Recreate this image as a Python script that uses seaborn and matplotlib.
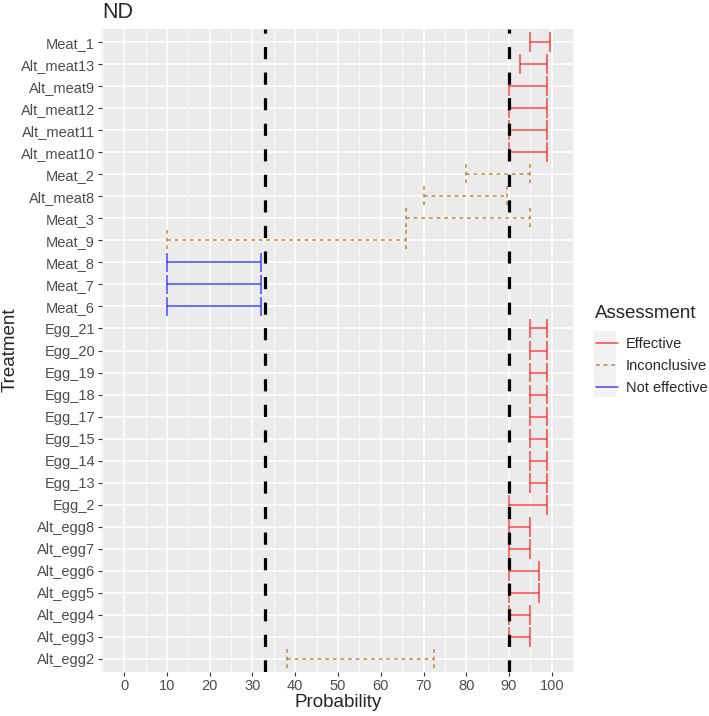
import pandas as pd
import seaborn as sns
import matplotlib.pyplot as plt
from matplotlib.lines import Line2D
from matplotlib.patches import Rectangle
from matplotlib.ticker import MultipleLocator

treatments = ['Meat_1', 'Alt_meat13', 'Alt_meat9', 'Alt_meat12', 'Alt_meat11', 'Alt_meat10',
              'Meat_2', 'Alt_meat8', 'Meat_3', 'Meat_9', 'Meat_8', 'Meat_7', 'Meat_6',
              'Egg_21', 'Egg_20', 'Egg_19', 'Egg_18', 'Egg_17', 'Egg_15', 'Egg_14', 'Egg_13',
              'Egg_2', 'Alt_egg8', 'Alt_egg7', 'Alt_egg6', 'Alt_egg5', 'Alt_egg4', 'Alt_egg3',
              'Alt_egg2']
lower = [95, 92.5, 90, 90, 90, 90,
         80, 70, 66, 10, 10, 10, 10,
         95, 95, 95, 95, 95, 95, 95, 95,
         90, 90, 90, 90, 90, 90, 90,
         38]
upper = [99.5, 99, 99, 99, 99, 99,
         95, 89.5, 95, 66, 32, 32, 32,
         99, 99, 99, 99, 99, 99, 99, 99,
         99, 95, 95, 97, 97, 95, 95,
         72.5]
assessment = ['Effective'] * 6 + ['Inconclusive'] * 4 + ['Not effective'] * 3 + \
             ['Effective'] * 15 + ['Inconclusive']
thresholds = [33, 90]

styles = {
    'Effective': dict(color='red', alpha=0.72, ls='-'),
    'Inconclusive': dict(color='#A07818', alpha=0.8, ls=(0, (2.5, 2.5))),
    'Not effective': dict(color='blue', alpha=0.72, ls='-'),
}

df = pd.DataFrame({'Treatment': treatments, 'lower': lower, 'upper': upper,
                   'Assessment': assessment})
df['y'] = range(len(df))

sns.set_theme(style='darkgrid', rc={
    'axes.facecolor': '#EBEBEB',
    'grid.color': 'white',
    'axes.edgecolor': 'white',
})
plt.rcParams['font.family'] = ['Liberation Sans', 'DejaVu Sans']

fig, ax = plt.subplots(figsize=(7.09, 7.16), dpi=100)
fig.subplots_adjust(left=102 / 709, right=574 / 709, top=1 - 29 / 716, bottom=1 - 672 / 716)

cap = 0.45
for name, sub in df.groupby('Assessment'):
    st = styles[name]
    kw = dict(colors=st['color'], alpha=st['alpha'], linestyles=st['ls'], lw=1.1, zorder=3)
    ax.hlines(sub['y'], sub['lower'], sub['upper'], **kw)
    ax.vlines(sub['lower'], sub['y'] - cap, sub['y'] + cap, **kw)
    ax.vlines(sub['upper'], sub['y'] - cap, sub['y'] + cap, **kw)

for t in thresholds:
    ax.axvline(t, color='black', lw=2.3, ls=(0, (3.8, 4.2)), zorder=4)

ax.set_xlim(-5.2, 105.2)
ax.set_ylim(len(df) - 0.4, -0.6)
ax.xaxis.set_major_locator(MultipleLocator(10))
ax.xaxis.set_minor_locator(MultipleLocator(5))
ax.set_yticks(df['y'])
ax.set_yticklabels(df['Treatment'])
ax.grid(which='major', color='white', lw=1.1)
ax.grid(which='minor', axis='x', color='white', lw=0.5)
ax.tick_params(axis='both', which='major', length=3, width=0.8, color='#333333',
               labelsize=10.5, labelcolor='#4D4D4D', pad=2, bottom=True, left=True)
ax.tick_params(which='minor', length=0)
for s in ax.spines.values():
    s.set_visible(False)

ax.set_xlabel('Probability', fontsize=13.5, labelpad=1)
ax.set_ylabel('')
fig.text(10 / 709, 1 - 350 / 716, 'Treatment', rotation=90, fontsize=13.5,
         ha='center', va='center')
ax.set_title('ND', loc='left', fontsize=15.5, pad=8)

fig.text(595 / 709, 1 - 313 / 716, 'Assessment', fontsize=13.5, va='center')
fig.patches.append(Rectangle((594 / 709, 1 - 397 / 716), 22 / 709, 66 / 716,
                             transform=fig.transFigure, facecolor='#F2F2F2',
                             edgecolor='none'))
handles = [Line2D([], [], color=styles[k]['color'], alpha=styles[k]['alpha'],
                  ls=styles[k]['ls'], lw=1.1) for k in styles]
fig.legend(handles, list(styles), loc='upper left', bbox_to_anchor=(596 / 709, 1 - 337 / 716),
           frameon=False, fontsize=10.5, handlelength=1.5, handletextpad=0.55,
           labelspacing=0.55, borderpad=0, borderaxespad=0)

fig.savefig('out.png', dpi=100)
